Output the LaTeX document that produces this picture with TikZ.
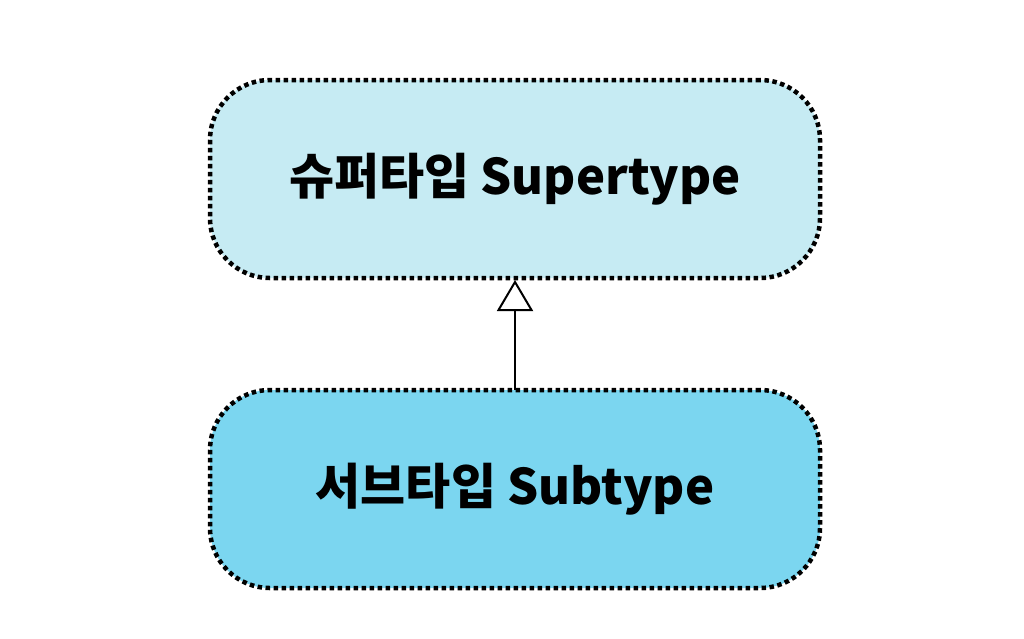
\documentclass[tikz,border=0pt]{standalone}
\usepackage{fontspec}
\setmainfont{Noto Sans CJK KR}
\usetikzlibrary{positioning, arrows.meta}
\definecolor{superfill}{HTML}{C6EBF3}
\definecolor{subfill}{HTML}{7BD6F0}
\tikzset{typebox/.style={draw, line width=4.5pt, dash pattern=on 4.5pt off 3.5pt, rounded corners=60pt, minimum width=610pt, minimum height=198pt, outer sep=0pt, inner sep=0pt, font=\fontsize{49}{58}\selectfont\bfseries}}
\tikzset{isa/.style={draw, line width=2pt, -{Triangle[open, width=36pt, length=31pt, line width=2pt]}, shorten >=2pt}}
\begin{document}
\begin{tikzpicture}[x=1pt, y=1pt]
	\useasboundingbox (0,0) rectangle (1024,-638);
	\node[typebox, fill=superfill] (super) at (515,-179) {슈퍼타입 Supertype};
	\node[typebox, fill=subfill, below=112pt of super] (sub) {서브타입 Subtype};
	%
	\draw[isa] (sub) -- (super);
\end{tikzpicture}
\end{document}
